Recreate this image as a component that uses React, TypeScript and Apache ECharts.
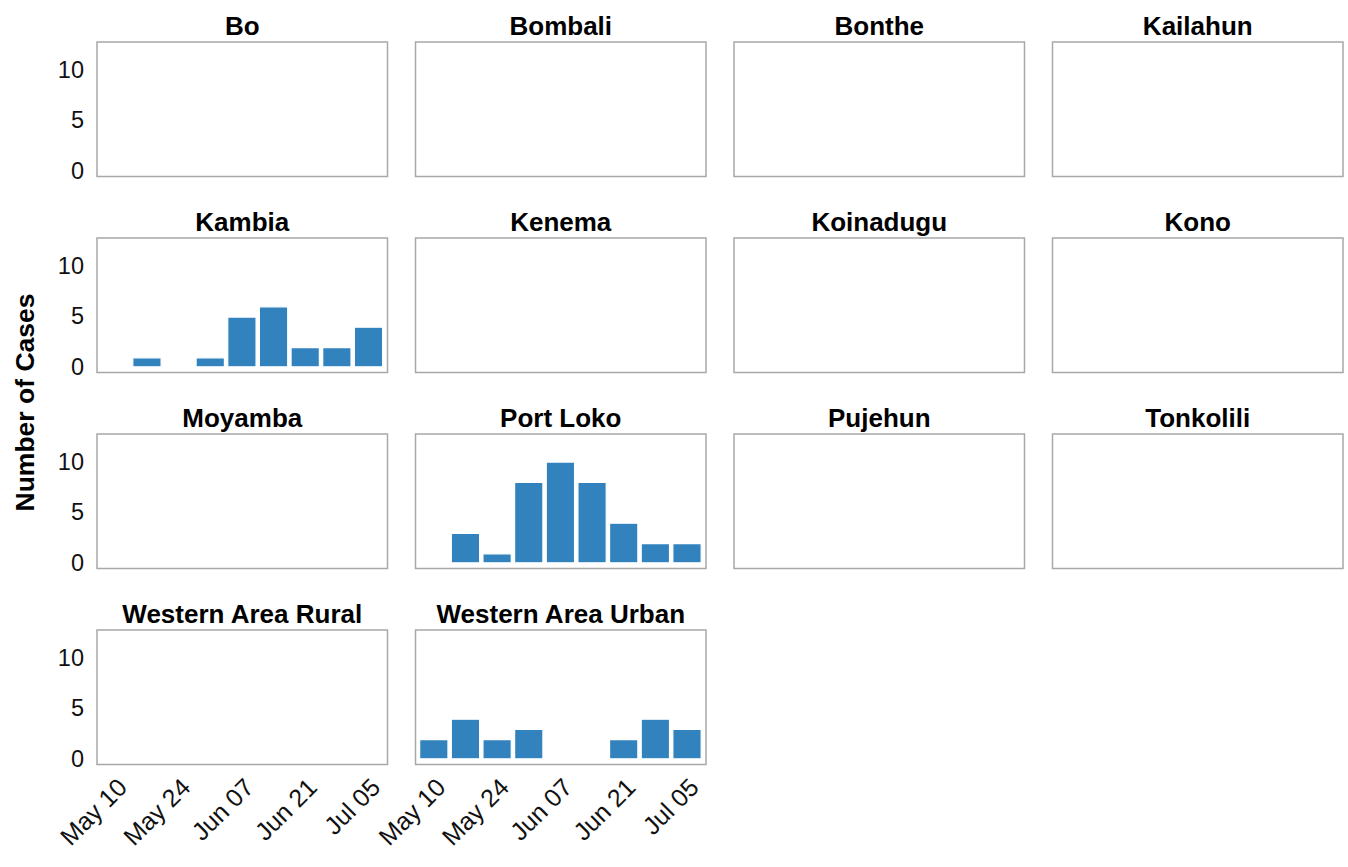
import React, { useEffect, useRef } from "react";
import * as echarts from "echarts";

// ---- data ----
const districts = [
  "Bo", "Bombali", "Bonthe", "Kailahun",
  "Kambia", "Kenema", "Koinadugu", "Kono",
  "Moyamba", "Port Loko", "Pujehun", "Tonkolili",
  "Western Area Rural", "Western Area Urban",
];

// weekly bins (start date of each 7-day bin)
const weekStarts = [
  "2015-05-03", "2015-05-10", "2015-05-17", "2015-05-24", "2015-05-31",
  "2015-06-07", "2015-06-14", "2015-06-21", "2015-06-28",
];

const bo = [0, 0, 0, 0, 0, 0, 0, 0, 0];
const bombali = [0, 0, 0, 0, 0, 0, 0, 0, 0];
const bonthe = [0, 0, 0, 0, 0, 0, 0, 0, 0];
const kailahun = [0, 0, 0, 0, 0, 0, 0, 0, 0];
const kambia = [0, 1, 0, 1, 5, 6, 2, 2, 4];
const kenema = [0, 0, 0, 0, 0, 0, 0, 0, 0];
const koinadugu = [0, 0, 0, 0, 0, 0, 0, 0, 0];
const kono = [0, 0, 0, 0, 0, 0, 0, 0, 0];
const moyamba = [0, 0, 0, 0, 0, 0, 0, 0, 0];
const portLoko = [0, 3, 1, 8, 10, 8, 4, 2, 2];
const pujehun = [0, 0, 0, 0, 0, 0, 0, 0, 0];
const tonkolili = [0, 0, 0, 0, 0, 0, 0, 0, 0];
const westernAreaRural = [0, 0, 0, 0, 0, 0, 0, 0, 0];
const westernAreaUrban = [2, 4, 2, 3, 0, 0, 2, 4, 3];

const seriesValues = [
  bo, bombali, bonthe, kailahun,
  kambia, kenema, koinadugu, kono,
  moyamba, portLoko, pujehun, tonkolili,
  westernAreaRural, westernAreaUrban,
];

const xTickDates = ["2015-05-10", "2015-05-24", "2015-06-07", "2015-06-21", "2015-07-05"];
const xTickLabels = ["May 10", "May 24", "Jun 07", "Jun 21", "Jul 05"];
const yTicks = [0, 5, 10];

// ---- layout ----
const DAY = 86400000;
const origin = Date.parse(weekStarts[0]);
const toDay = (d: string) => (Date.parse(d) - origin) / DAY;

const COLS = 4;
const PANEL_LEFTS = [97, 415.5, 734, 1052.5];
const PANEL_TOPS = [42, 238, 434, 630];
const PANEL_W = 290.5;
const PANEL_H = 134.5;
const X_MIN = -0.55;
const X_MAX = 63.7;
const Y_MIN = -0.5;
const Y_MAX = 12.7;
const BAR_COLOR = "#3182bd";
const FONT = "'Liberation Sans', Arial, Helvetica, sans-serif";

export default function App() {
  const ref = useRef<HTMLDivElement>(null);

  useEffect(() => {
    if (!ref.current) return;
    const chart = echarts.init(ref.current, undefined, { renderer: "svg" });

    const tickDays = xTickDates.map(toDay);
    const labelFor = (v: number) => {
      const i = tickDays.findIndex((t) => Math.abs(t - v) < 1e-6);
      return i >= 0 ? xTickLabels[i] : "";
    };

    const grids: any[] = [];
    const xAxes: any[] = [];
    const yAxes: any[] = [];
    const series: any[] = [];
    const titles: any[] = [];

    const lastRow = Math.floor((districts.length - 1) / COLS);
    districts.forEach((name, i) => {
      const col = i % COLS;
      const row = Math.floor(i / COLS);
      const left = PANEL_LEFTS[col];
      const top = PANEL_TOPS[row];
      const showX = row === lastRow;
      const showY = col === 0;

      grids.push({
        left,
        top,
        width: PANEL_W,
        height: PANEL_H,
        show: true,
        borderColor: "#a8a8a8",
        borderWidth: 1.5,
        backgroundColor: "transparent",
        containLabel: false,
        outerBoundsMode: "none",
      });

      xAxes.push({
        type: "value",
        gridIndex: i,
        min: X_MIN,
        max: X_MAX,
        axisLine: { show: false },
        axisTick: { show: false, customValues: tickDays },
        splitLine: { show: false },
        axisLabel: {
          show: showX,
          customValues: tickDays,
          formatter: (v: number) => labelFor(v),
          rotate: 45,
          fontSize: 25,
          fontFamily: FONT,
          color: "#111",
          margin: 27,
          verticalAlign: "bottom",
        },
      });

      yAxes.push({
        type: "value",
        gridIndex: i,
        min: Y_MIN,
        max: Y_MAX,
        axisLine: { show: false },
        axisTick: { show: false, customValues: yTicks },
        splitLine: { show: false },
        axisLabel: {
          show: showY,
          customValues: yTicks,
          fontSize: 23.5,
          fontFamily: FONT,
          color: "#111",
          margin: 13,
        },
      });

      const data = seriesValues[i]
        .map((v, k) => [toDay(weekStarts[k]) + 3.5, v])
        .filter((p) => p[1] > 0);

      series.push({
        type: "bar",
        name,
        xAxisIndex: i,
        yAxisIndex: i,
        data,
        barWidth: 29.5,
        itemStyle: { color: BAR_COLOR, borderColor: "#ffffff", borderWidth: 1.2 },
        silent: true,
      });

      titles.push({
        text: name,
        left: left + PANEL_W / 2,
        top: top - 29,
        textAlign: "center",
        textStyle: {
          fontSize: 26,
          fontWeight: "bold",
          fontFamily: FONT,
          color: "#000",
        },
        padding: 0,
      });
    });

    chart.setOption({
      animation: false,
      backgroundColor: "#ffffff",
      title: titles,
      grid: grids,
      xAxis: xAxes,
      yAxis: yAxes,
      series,
      graphic: [
        {
          type: "text",
          x: 25,
          y: 402.5,
          rotation: Math.PI / 2,
          style: {
            text: "Number of Cases",
            fontSize: 26.5,
            fontWeight: "bold",
            fontFamily: FONT,
            fill: "#000",
            align: "center",
            verticalAlign: "middle",
          },
        },
      ],
    });

    return () => chart.dispose();
  }, []);

  return (
    <div
      ref={ref}
      style={{ position: "fixed", left: 0, top: 0, width: 1348, height: 867 }}
    />
  );
}
